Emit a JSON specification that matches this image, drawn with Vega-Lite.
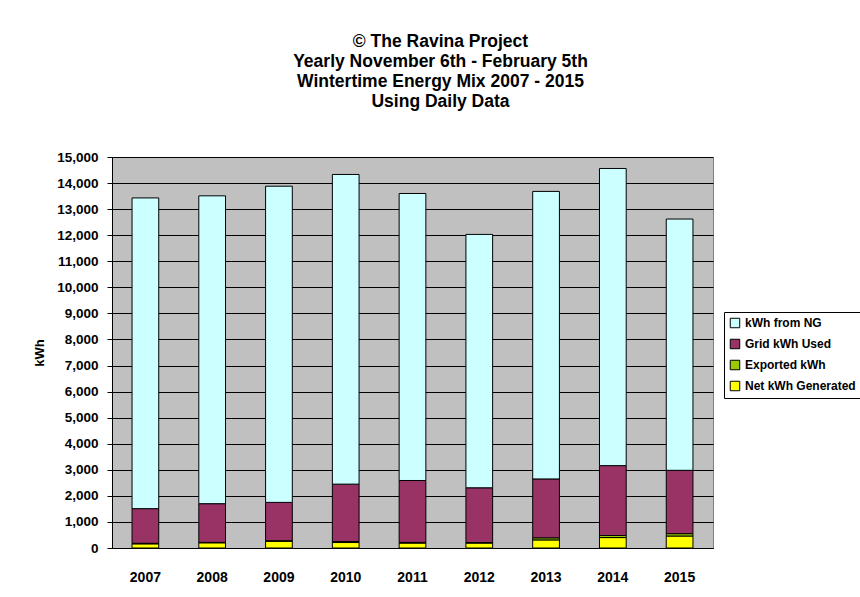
{
  "$schema": "https://vega.github.io/schema/vega-lite/v6.json",
  "width": 601,
  "height": 391,
  "autosize": {"type": "none"},
  "padding": {"left": 112, "top": 157, "right": 147, "bottom": 49},
  "background": "white",
  "title": {
    "text": ["© The Ravina Project", "Yearly November 6th - February 5th", "Wintertime Energy Mix 2007 - 2015", "Using Daily Data"],
    "font": "Liberation Sans",
    "fontSize": 17.5,
    "fontWeight": "bold",
    "lineHeight": 20,
    "color": "black",
    "anchor": "middle",
    "frame": "group",
    "dx": 28,
    "offset": 40
  },
  "data": {
    "values": [
      {"year": "2007", "series": "Net kWh Generated", "ord": 1, "kwh": 160},
      {"year": "2007", "series": "Exported kWh", "ord": 2, "kwh": 20},
      {"year": "2007", "series": "Grid kWh Used", "ord": 3, "kwh": 1330},
      {"year": "2007", "series": "kWh from NG", "ord": 4, "kwh": 11920},
      {"year": "2008", "series": "Net kWh Generated", "ord": 1, "kwh": 200},
      {"year": "2008", "series": "Exported kWh", "ord": 2, "kwh": 15},
      {"year": "2008", "series": "Grid kWh Used", "ord": 3, "kwh": 1485},
      {"year": "2008", "series": "kWh from NG", "ord": 4, "kwh": 11810},
      {"year": "2009", "series": "Net kWh Generated", "ord": 1, "kwh": 260},
      {"year": "2009", "series": "Exported kWh", "ord": 2, "kwh": 20},
      {"year": "2009", "series": "Grid kWh Used", "ord": 3, "kwh": 1470},
      {"year": "2009", "series": "kWh from NG", "ord": 4, "kwh": 12130},
      {"year": "2010", "series": "Net kWh Generated", "ord": 1, "kwh": 210},
      {"year": "2010", "series": "Exported kWh", "ord": 2, "kwh": 40},
      {"year": "2010", "series": "Grid kWh Used", "ord": 3, "kwh": 2200},
      {"year": "2010", "series": "kWh from NG", "ord": 4, "kwh": 11880},
      {"year": "2011", "series": "Net kWh Generated", "ord": 1, "kwh": 190},
      {"year": "2011", "series": "Exported kWh", "ord": 2, "kwh": 25},
      {"year": "2011", "series": "Grid kWh Used", "ord": 3, "kwh": 2375},
      {"year": "2011", "series": "kWh from NG", "ord": 4, "kwh": 11010},
      {"year": "2012", "series": "Net kWh Generated", "ord": 1, "kwh": 190},
      {"year": "2012", "series": "Exported kWh", "ord": 2, "kwh": 20},
      {"year": "2012", "series": "Grid kWh Used", "ord": 3, "kwh": 2100},
      {"year": "2012", "series": "kWh from NG", "ord": 4, "kwh": 9720},
      {"year": "2013", "series": "Net kWh Generated", "ord": 1, "kwh": 310},
      {"year": "2013", "series": "Exported kWh", "ord": 2, "kwh": 80},
      {"year": "2013", "series": "Grid kWh Used", "ord": 3, "kwh": 2260},
      {"year": "2013", "series": "kWh from NG", "ord": 4, "kwh": 11030},
      {"year": "2014", "series": "Net kWh Generated", "ord": 1, "kwh": 400},
      {"year": "2014", "series": "Exported kWh", "ord": 2, "kwh": 80},
      {"year": "2014", "series": "Grid kWh Used", "ord": 3, "kwh": 2680},
      {"year": "2014", "series": "kWh from NG", "ord": 4, "kwh": 11400},
      {"year": "2015", "series": "Net kWh Generated", "ord": 1, "kwh": 460},
      {"year": "2015", "series": "Exported kWh", "ord": 2, "kwh": 90},
      {"year": "2015", "series": "Grid kWh Used", "ord": 3, "kwh": 2430},
      {"year": "2015", "series": "kWh from NG", "ord": 4, "kwh": 9640}
    ]
  },
  "mark": {"type": "bar", "stroke": "black", "strokeWidth": 1},
  "encoding": {
    "x": {
      "field": "year",
      "type": "ordinal",
      "scale": {"paddingInner": 0.6, "paddingOuter": 0.3},
      "axis": {
        "title": null,
        "labelAngle": 0,
        "labelFont": "Liberation Sans",
        "labelFontSize": 14,
        "labelFontWeight": "bold",
        "labelColor": "black",
        "labelPadding": 22,
        "ticks": false,
        "domainColor": "black",
        "domainWidth": 1
      }
    },
    "y": {
      "field": "kwh",
      "type": "quantitative",
      "aggregate": "sum",
      "stack": "zero",
      "scale": {"domain": [0, 15000], "nice": false},
      "axis": {
        "title": "kWh",
        "titleFont": "Liberation Sans",
        "titleFontSize": 13,
        "titleFontWeight": "bold",
        "titleColor": "black",
        "titlePadding": 10,
        "values": [0, 1000, 2000, 3000, 4000, 5000, 6000, 7000, 8000, 9000, 10000, 11000, 12000, 13000, 14000, 15000],
        "format": ",.0f",
        "labelFont": "Liberation Sans",
        "labelFontSize": 13.5,
        "labelFontWeight": "bold",
        "labelColor": "black",
        "labelPadding": 9,
        "tickColor": "black",
        "tickSize": 5,
        "domainColor": "black",
        "grid": true,
        "gridColor": "black",
        "gridWidth": 1,
        "gridOpacity": 1
      }
    },
    "color": {
      "field": "series",
      "type": "nominal",
      "scale": {
        "domain": ["kWh from NG", "Grid kWh Used", "Exported kWh", "Net kWh Generated"],
        "range": ["#CCFFFF", "#993366", "#99CC00", "#FFFF00"]
      },
      "legend": {
        "title": null,
        "orient": "none",
        "legendX": 612,
        "legendY": 155,
        "labelFont": "Liberation Sans",
        "labelFontSize": 12,
        "labelFontWeight": "bold",
        "labelColor": "black",
        "symbolType": "square",
        "symbolSize": 90,
        "symbolStrokeColor": "black",
        "symbolStrokeWidth": 1,
        "symbolOpacity": 1,
        "rowPadding": 7,
        "labelOffset": 4,
        "strokeColor": "black",
        "fillColor": "white",
        "padding": 5
      }
    },
    "order": {"field": "ord", "type": "quantitative", "sort": "ascending"}
  },
  "config": {
    "view": {"fill": "#C0C0C0", "stroke": "#808080", "strokeWidth": 1},
    "axis": {"gridDash": []}
  }
}
